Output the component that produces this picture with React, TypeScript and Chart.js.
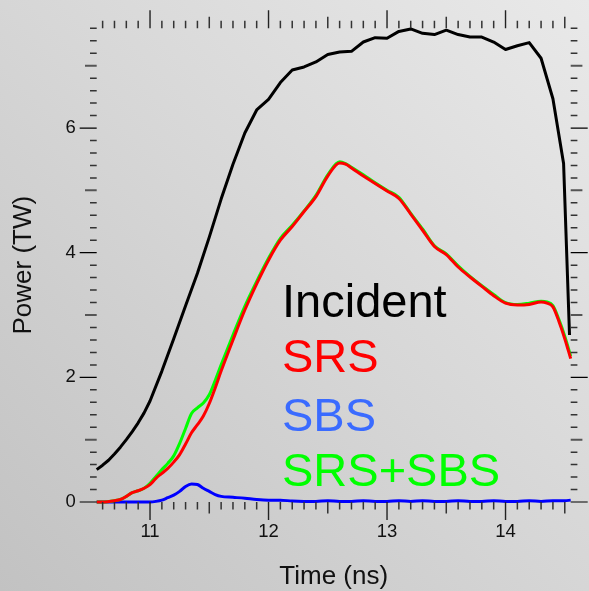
import React, { useEffect, useRef } from "react";
import { Chart, registerables } from "chart.js";

Chart.register(...registerables);

// ---- data ----
const INCIDENT_T = [10.55, 10.6, 10.65, 10.7, 10.75, 10.8, 10.85, 10.9, 10.95, 11.0, 11.1, 11.2, 11.3, 11.4, 11.5, 11.6, 11.7, 11.8, 11.9, 12.0, 12.1, 12.2, 12.3, 12.4, 12.5, 12.6, 12.7, 12.8, 12.9, 13.0, 13.1, 13.2, 13.3, 13.4, 13.5, 13.6, 13.7, 13.8, 13.9, 14.0, 14.1, 14.2, 14.3, 14.4, 14.49, 14.54];
const INCIDENT_P = [0.52, 0.59, 0.67, 0.77, 0.88, 1.0, 1.13, 1.27, 1.43, 1.62, 2.1, 2.62, 3.15, 3.67, 4.25, 4.86, 5.42, 5.92, 6.29, 6.46, 6.73, 6.93, 6.98, 7.06, 7.18, 7.22, 7.23, 7.38, 7.45, 7.44, 7.55, 7.59, 7.52, 7.5, 7.57, 7.5, 7.46, 7.46, 7.38, 7.26, 7.32, 7.37, 7.12, 6.47, 5.43, 2.68];

const SRS_T = [10.55, 10.6, 10.7, 10.75, 10.8, 10.85, 10.9, 10.95, 11.0, 11.05, 11.1, 11.15, 11.2, 11.25, 11.3, 11.35, 11.4, 11.45, 11.5, 11.55, 11.6, 11.7, 11.8, 11.9, 12.0, 12.1, 12.2, 12.3, 12.4, 12.5, 12.6, 12.65, 12.7, 12.8, 12.9, 13.0, 13.1, 13.2, 13.3, 13.4, 13.5, 13.6, 13.7, 13.8, 13.9, 14.0, 14.1, 14.2, 14.3, 14.35, 14.4, 14.45, 14.5, 14.55];
const SRS_P = [0.0, 0.0, 0.02, 0.04, 0.09, 0.15, 0.18, 0.22, 0.28, 0.38, 0.46, 0.54, 0.64, 0.76, 0.93, 1.11, 1.24, 1.38, 1.58, 1.83, 2.1, 2.6, 3.08, 3.5, 3.88, 4.2, 4.42, 4.66, 4.9, 5.23, 5.44, 5.42, 5.36, 5.23, 5.11, 4.99, 4.87, 4.62, 4.36, 4.1, 3.97, 3.77, 3.61, 3.46, 3.31, 3.19, 3.16, 3.17, 3.21, 3.19, 3.13, 2.9, 2.62, 2.3];

const SUM_T = [10.55, 10.6, 10.7, 10.75, 10.8, 10.85, 10.9, 10.95, 11.0, 11.05, 11.1, 11.15, 11.2, 11.25, 11.3, 11.35, 11.4, 11.45, 11.5, 11.55, 11.6, 11.7, 11.8, 11.9, 12.0, 12.1, 12.2, 12.3, 12.4, 12.5, 12.6, 12.65, 12.7, 12.8, 12.9, 13.0, 13.1, 13.2, 13.3, 13.4, 13.5, 13.6, 13.7, 13.8, 13.9, 14.0, 14.1, 14.2, 14.3, 14.35, 14.4, 14.45, 14.5, 14.55];
const SUM_P = [0.0, 0.0, 0.02, 0.04, 0.09, 0.15, 0.18, 0.22, 0.3, 0.41, 0.52, 0.62, 0.74, 0.94, 1.18, 1.42, 1.51, 1.59, 1.72, 1.95, 2.2, 2.68, 3.14, 3.54, 3.91, 4.23, 4.44, 4.67, 4.92, 5.25, 5.46, 5.43, 5.37, 5.25, 5.12, 5.0, 4.89, 4.63, 4.38, 4.11, 3.98, 3.79, 3.62, 3.47, 3.33, 3.2, 3.17, 3.19, 3.22, 3.21, 3.15, 2.93, 2.66, 2.34];

const SBS_T = [10.55, 11.0, 11.05, 11.1, 11.15, 11.2, 11.25, 11.3, 11.35, 11.4, 11.45, 11.5, 11.55, 11.6, 11.7, 11.8, 11.9, 12.0, 12.1, 12.2, 12.3, 12.4, 12.5, 12.6, 12.7, 12.8, 12.9, 13.0, 13.1, 13.2, 13.3, 13.4, 13.5, 13.6, 13.7, 13.8, 13.9, 14.0, 14.1, 14.2, 14.3, 14.4, 14.5, 14.55];
const SBS_P = [0.0, 0.0, 0.01, 0.03, 0.07, 0.11, 0.17, 0.25, 0.29, 0.28, 0.22, 0.17, 0.12, 0.09, 0.075, 0.06, 0.04, 0.03, 0.03, 0.015, 0.01, 0.01, 0.02, 0.01, 0.01, 0.02, 0.01, 0.01, 0.02, 0.01, 0.02, 0.01, 0.01, 0.02, 0.01, 0.01, 0.02, 0.01, 0.01, 0.02, 0.01, 0.02, 0.02, 0.03];

const X_TICK_LABELS = [11, 12, 13, 14];
const Y_TICK_LABELS = [0, 2, 4, 6];
const LEGEND_LABELS = ["Incident", "SRS", "SBS", "SRS+SBS"];
const LEGEND_COLORS = ["#000000", "#ff0000", "#3a6bff", "#00ff00"];

const FONT = "'Liberation Sans', Arial, Helvetica, sans-serif";

const pairs = (t: number[], p: number[]) => t.map((x, i) => ({ x, y: p[i] }));

const frameTicks = {
  id: "frameTicks",
  afterDraw(chart: any) {
    const { ctx, chartArea: a, scales } = chart;
    const xs = scales.x;
    const ys = scales.y;
    ctx.save();
    // x ticks every 0.1, top and bottom, outward
    for (let i = 106; i <= 145; i++) {
      const px = xs.getPixelForValue(i / 10);
      const isInt = i % 10 === 0;
      const isHalf = i % 5 === 0;
      const len = isInt ? 18 : isHalf ? 11.5 : 7.5;
      ctx.strokeStyle = isInt ? "#222" : "#333";
      ctx.lineWidth = isInt ? 1.4 : 1.5;
      ctx.beginPath();
      ctx.moveTo(px, a.bottom);
      ctx.lineTo(px, a.bottom + len);
      ctx.moveTo(px, a.top);
      ctx.lineTo(px, a.top - len);
      ctx.stroke();
    }
    // y ticks every 0.2, left and right, outward
    for (let i = 0; i <= 38; i++) {
      const py = ys.getPixelForValue(i / 5);
      const isInt = i % 5 === 0;
      const isEven = i % 10 === 0;
      const len = isEven ? 17 : isInt ? 11.7 : 6.7;
      ctx.strokeStyle = isEven ? "#000" : isInt ? "#555" : "#333";
      ctx.lineWidth = isEven ? 1.2 : isInt ? 2 : 1.5;
      ctx.beginPath();
      ctx.moveTo(a.left - len, py);
      ctx.lineTo(a.left, py);
      ctx.moveTo(a.right, py);
      ctx.lineTo(a.right + len, py);
      ctx.stroke();
    }
    ctx.restore();
  },
};

const LEGEND_BASELINES = [317, 372, 431, 486];

const textLegend = {
  id: "textLegend",
  afterDatasetsDraw(chart: any) {
    const { ctx } = chart;
    ctx.save();
    ctx.font = `47px ${FONT}`;
    ctx.textAlign = "left";
    ctx.textBaseline = "alphabetic";
    LEGEND_LABELS.forEach((label, i) => {
      ctx.fillStyle = LEGEND_COLORS[i];
      ctx.fillText(label, 282, LEGEND_BASELINES[i]);
    });
    ctx.restore();
  },
};

export default function App() {
  const canvasRef = useRef<HTMLCanvasElement | null>(null);

  useEffect(() => {
    const canvas = canvasRef.current;
    if (!canvas) return;
    const chart = new Chart(canvas, {
      type: "line",
      data: {
        datasets: [
          {
            label: "Incident",
            data: pairs(INCIDENT_T, INCIDENT_P),
            borderColor: "#000000",
            borderWidth: 3,
            pointRadius: 0,
            tension: 0,
            borderJoinStyle: "round",
            clip: false,
          },
          {
            label: "SRS",
            data: pairs(SRS_T, SRS_P),
            borderColor: "#ff0000",
            borderWidth: 3,
            pointRadius: 0,
            cubicInterpolationMode: "monotone",
            clip: false,
          },
          {
            label: "SRS+SBS",
            data: pairs(SUM_T, SUM_P),
            borderColor: "#00ff00",
            borderWidth: 3,
            pointRadius: 0,
            cubicInterpolationMode: "monotone",
            clip: false,
          },
          {
            label: "SBS",
            data: pairs(SBS_T, SBS_P),
            borderColor: "#0000ff",
            borderWidth: 3,
            pointRadius: 0,
            cubicInterpolationMode: "monotone",
            clip: false,
          },
        ],
      },
      options: {
        responsive: false,
        animation: false,
        devicePixelRatio: 1,
        layout: { padding: 0 },
        plugins: { legend: { display: false }, tooltip: { enabled: false } },
        scales: {
          x: {
            type: "linear",
            position: "bottom",
            min: 10.55,
            max: 14.55,
            grid: { display: false },
            border: { display: false },
            ticks: {
              font: { family: FONT, size: 18.5 },
              color: "#111",
              padding: 11,
              maxRotation: 0,
              autoSkip: false,
            },
            afterBuildTicks: (s: any) => {
              s.ticks = X_TICK_LABELS.map((v) => ({ value: v }));
            },
            afterFit: (s: any) => {
              s.height = 89;
            },
            title: {
              display: true,
              text: "Time (ns)",
              color: "#111",
              font: { family: FONT, size: 26, lineHeight: 1 },
              padding: { top: 0, bottom: 1 },
            },
          },
          xTop: {
            type: "linear",
            position: "top",
            min: 10.55,
            max: 14.55,
            display: true,
            grid: { display: false },
            border: { display: false },
            ticks: { display: false },
            afterFit: (s: any) => {
              s.height = 28.3;
            },
          },
          y: {
            type: "linear",
            position: "left",
            min: 0,
            max: 7.6,
            grid: { display: false },
            border: { display: false },
            ticks: {
              font: { family: FONT, size: 18.5 },
              color: "#111",
              padding: 13,
            },
            afterBuildTicks: (s: any) => {
              s.ticks = Y_TICK_LABELS.map((v) => ({ value: v }));
            },
            afterFit: (s: any) => {
              s.width = 96.7;
            },
            title: {
              display: true,
              text: "Power (TW)",
              color: "#111",
              font: { family: FONT, size: 26, lineHeight: 1 },
              padding: { top: 11, bottom: 0 },
            },
          },
          yRight: {
            type: "linear",
            position: "right",
            min: 0,
            max: 7.6,
            display: true,
            grid: { display: false },
            border: { display: false },
            ticks: { display: false },
            afterFit: (s: any) => {
              s.width = 18.3;
            },
          },
        },
      },
      plugins: [frameTicks, textLegend],
    } as any);
    return () => chart.destroy();
  }, []);

  return (
    <div
      style={{
        position: "fixed",
        left: 0,
        top: 0,
        width: 589,
        height: 591,
        background: "linear-gradient(to top right, #c2c2c2 0%, #d6d6d6 50%, #e9e9e9 100%)",
      }}
    >
      <canvas ref={canvasRef} width={589} height={591} style={{ display: "block", width: 589, height: 591 }} />
    </div>
  );
}
